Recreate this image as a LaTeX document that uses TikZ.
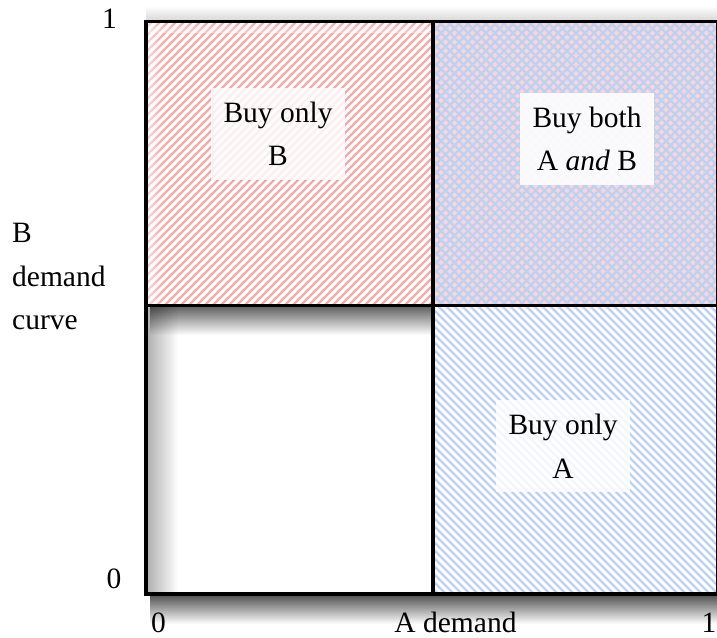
\documentclass[tikz,border=0pt]{standalone}
\usepackage{fontspec}
\setmainfont{Liberation Serif}
\usetikzlibrary{fadings}
\definecolor{hatchred}{RGB}{240,172,170}
\definecolor{hatchblue}{RGB}{190,209,240}
\definecolor{bothpink}{RGB}{248,214,220}
\tikzfading[name=shadowdown, top color=transparent!0, bottom color=transparent!100]
\tikzfading[name=shadowup, top color=transparent!100, bottom color=transparent!0]
\tikzfading[name=shadowright, left color=transparent!0, right color=transparent!100]
\begin{document}
\begin{tikzpicture}[x=1bp,y=1bp,
  lbl/.style={font=\fontsize{29.5bp}{43.5bp}\selectfont, inner sep=0pt},
  regionbox/.style={fill=white, fill opacity=0.8, text opacity=1,
    minimum width=134bp, minimum height=92bp, align=center, inner sep=0pt,
    font=\fontsize{29.5bp}{43.5bp}\selectfont},
  border/.style={line width=3.5bp, black},
  redhatch/.style={hatchred, line width=2.3bp},
  bluehatch/.style={hatchblue, line width=2.3bp},
  crosshatch/.style={hatchblue, line width=2.2bp}]
\useasboundingbox (0,0) rectangle (717,638);
\begin{scope}
\clip (0,0) rectangle (717,638);
% shadows
\fill[black, path fading=shadowup, fill opacity=0.15] (146,618) rectangle (718,632);
\fill[black, path fading=shadowdown, fill opacity=0.65] (150,41.75) rectangle (718,14);
\fill[black, path fading=shadowright, fill opacity=0.3] (147.75,44) rectangle (178,330.75);
\fill[black, path fading=shadowdown, fill opacity=0.6] (150,330.75) rectangle (433,303);
% top-left: buy only B
\begin{scope}
\clip (146,332.5) rectangle (433,616.5);
\fill[white] (146,332.5) rectangle (433,616.5);
\foreach \a in {-160,-152,...,440} \draw[redhatch] (\a,320) -- ++(310,310);
\fill[white, path fading=shadowright, fill opacity=0.55] (147,332.5) rectangle (162,616.5);
\fill[white, path fading=shadowup, fill opacity=0.4] (146,605) rectangle (433,616.5);
\end{scope}
% top-right: buy both
\begin{scope}
\clip (433,332.5) rectangle (718,616.5);
\fill[bothpink] (433,332.5) rectangle (718,616.5);
\foreach \a in {120,129,...,730} \draw[crosshatch] (\a,320) -- ++(310,310);
\foreach \a in {420,429,...,1040} \draw[crosshatch] (\a,320) -- ++(-310,310);
\end{scope}
% bottom-right: buy only A
\begin{scope}
\clip (433,44) rectangle (718,332.5);
\fill[white] (433,44) rectangle (718,332.5);
\foreach \a in {420,428,...,1040} \draw[bluehatch] (\a,30) -- ++(-310,310);
\end{scope}
% borders
\draw[border] (146,44) rectangle (718,616.5);
\draw[border] (433,44) -- (433,616.5);
\draw[border] (146,332.5) -- (718,332.5);
\draw[line width=4.5bp] (146,44) -- (718,44);
\end{scope}
% region labels
\node[regionbox] (onlyB) at (278,504) {Buy only\\B};
\node[regionbox, fill opacity=0.88] (both) at (587,499) {Buy both\\A \textit{and} B};
\node[regionbox] (onlyA) at (563,191.5) {Buy only\\A};
% axis labels
\node[lbl, anchor=base] (ytop) at (109.5,609) {1};
\node[lbl, anchor=base] (ybot) at (114,49) {0};
\node[lbl, anchor=base] (xbot) at (158.5,5) {0};
\node[lbl, anchor=base] (xmid) at (455.5,5) {A demand};
\node[lbl, anchor=base] (xtop) at (709,5) {1};
\node[lbl, anchor=base west] (ylab1) at (12,395) {B};
\node[lbl, anchor=base west] (ylab2) at (12,351) {demand};
\node[lbl, anchor=base west] (ylab3) at (12,308) {curve};
\end{tikzpicture}
\end{document}
